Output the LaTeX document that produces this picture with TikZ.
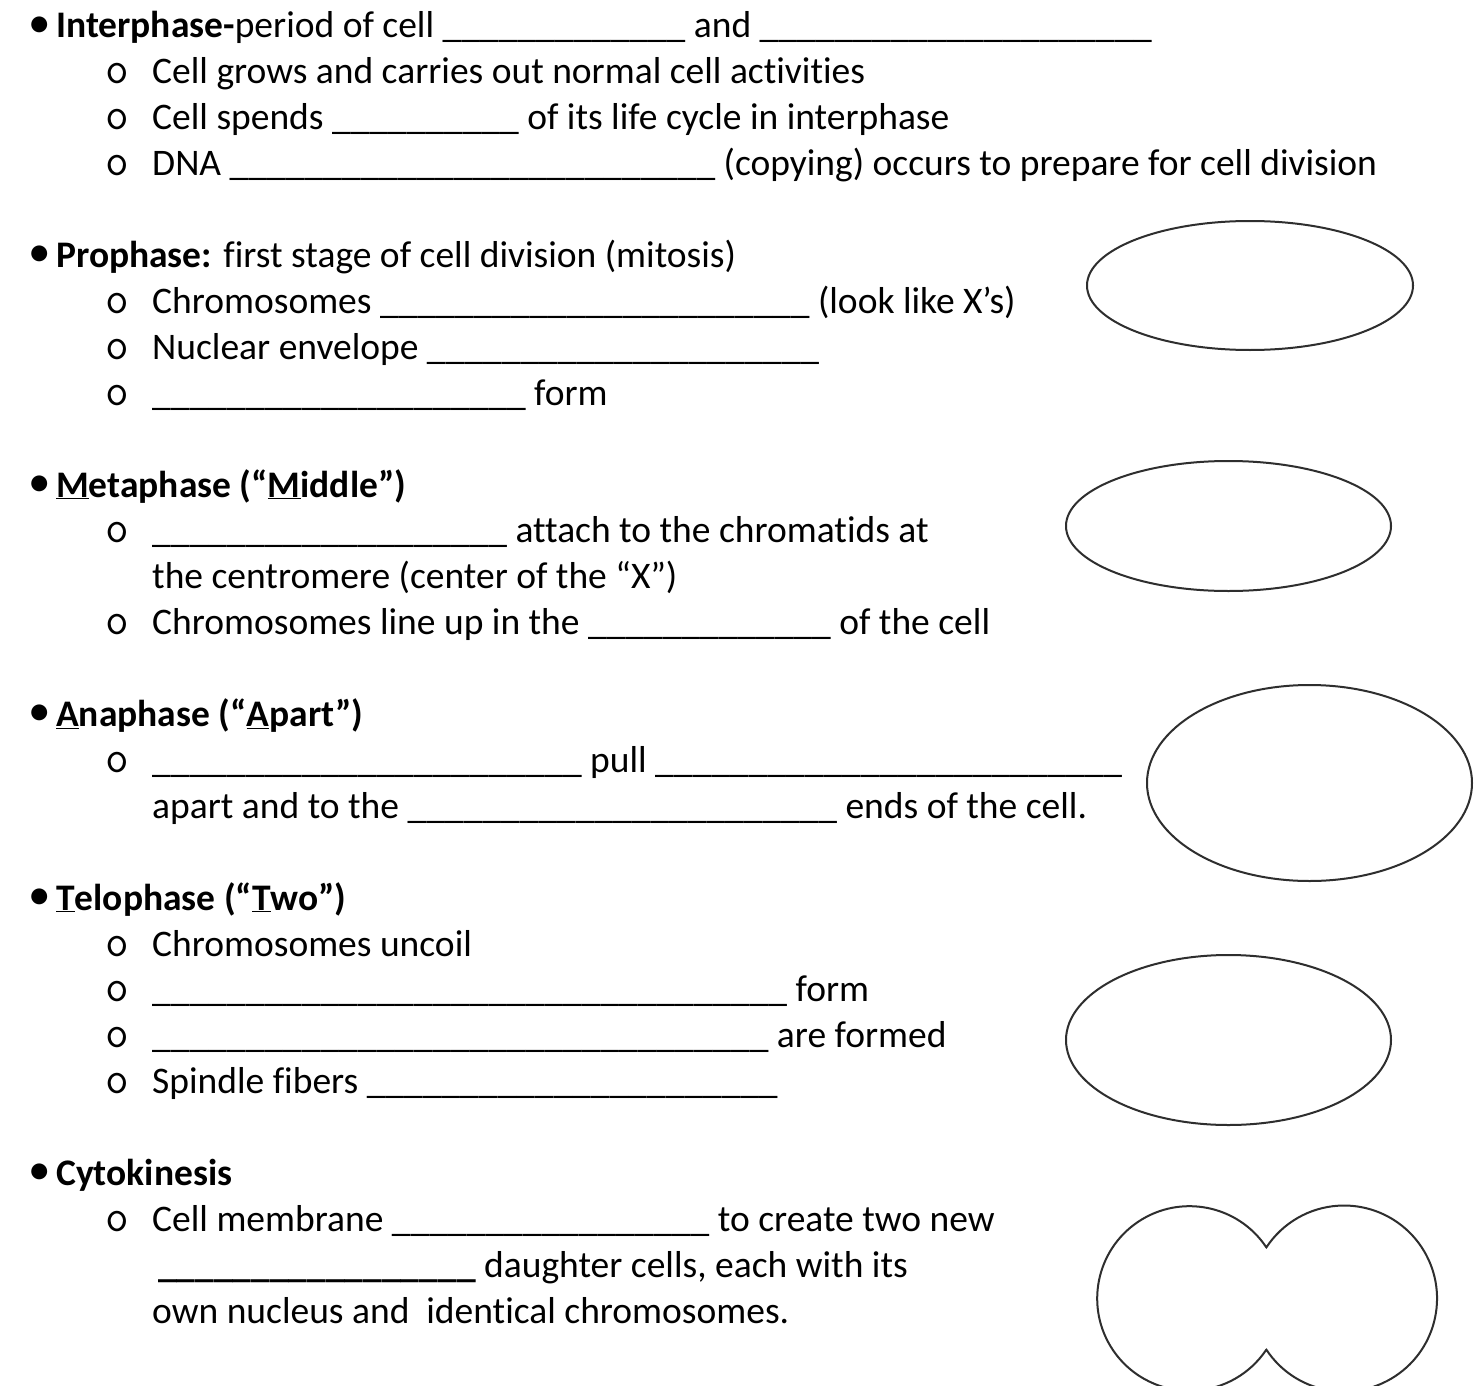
\documentclass[tikz,border=0pt]{standalone}
\usepackage{fontspec}
\setmainfont{Carlito}[RawFeature={-liga;-clig}]
\usetikzlibrary{shapes.geometric}
\ExplSyntaxOn
\cs_new:Npn \blank #1 {\prg_replicate:nn{#1}{\textunderscore}}
\ExplSyntaxOff
\newcommand\ul[1]{\underline{#1}}
\begin{document}
\begin{tikzpicture}[x=1pt,y=-1pt,
  txt/.style={anchor=base west, inner sep=0pt, font=\fontsize{37.5}{45}\selectfont},
  bul/.style={anchor=center, inner sep=0pt, font=\fontsize{45}{50}\selectfont},
  sub/.style={anchor=base, inner sep=0pt, font=\fontsize{46}{50}\ttfamily},
  cell/.style={draw=black!82, line width=2pt, ellipse, inner sep=0pt}]
\useasboundingbox (0,0) rectangle (1481,1386);
\clip (0,0) rectangle (1481,1386);
\fill[white] (0,0) rectangle (1481,1386);
\def\L#1{38+45.9*#1}
\def\B#1{27+45.9*#1}
% Interphase
\node[bul] (b0) at (40,{\B{0}}) {•};
\node[txt] (t0) at (56,{\L{0}}) {\textbf{Interphase-}period of cell \blank{13} and \blank{21}};
\node[sub] (s1) at (117,{\L{1}}) {o};
\node[txt] (t1) at (152,{\L{1}}) {Cell grows and carries out normal cell activities};
\node[sub] (s2) at (117,{\L{2}}) {o};
\node[txt] (t2) at (152,{\L{2}}) {Cell spends \blank{10} of its life cycle in interphase};
\node[sub] (s3) at (117,{\L{3}}) {o};
\node[txt] (t3) at (152,{\L{3}}) {DNA \blank{26} (copying) occurs to prepare for cell division};
% Prophase
\node[bul] (b5) at (40,{\B{5}}) {•};
\node[txt] (t5) at (56,{\L{5}}) {\textbf{Prophase:} first stage of cell division (mitosis)};
\node[sub] (s6) at (117,{\L{6}}) {o};
\node[txt] (t6) at (152,{\L{6}}) {Chromosomes \blank{23} (look like X’s)};
\node[sub] (s7) at (117,{\L{7}}) {o};
\node[txt] (t7) at (152,{\L{7}}) {Nuclear envelope \blank{21}};
\node[sub] (s8) at (117,{\L{8}}) {o};
\node[txt] (t8) at (152,{\L{8}}) {\blank{20} form};
% Metaphase
\node[bul] (b10) at (40,{\B{10}}) {•};
\node[txt] (t10) at (56,{\L{10}}) {\textbf{\ul{M}etaphase (“\ul{M}iddle”)}};
\node[sub] (s11) at (117,{\L{11}}) {o};
\node[txt] (t11) at (152,{\L{11}}) {\blank{19} attach to the chromatids at};
\node[txt] (t12) at (152,{\L{12}}) {the centromere (center of the “X”)};
\node[sub] (s13) at (117,{\L{13}}) {o};
\node[txt] (t13) at (152,{\L{13}}) {Chromosomes line up in the \blank{13} of the cell};
% Anaphase
\node[bul] (b15) at (40,{\B{15}}) {•};
\node[txt] (t15) at (56,{\L{15}}) {\textbf{\ul{A}naphase (“\ul{A}part”)}};
\node[sub] (s16) at (117,{\L{16}}) {o};
\node[txt] (t16) at (152,{\L{16}}) {\blank{23} pull \blank{25}};
\node[txt] (t17) at (152,{\L{17}}) {apart and to the \blank{23} ends of the cell.};
% Telophase
\node[bul] (b19) at (40,{\B{19}}) {•};
\node[txt] (t19) at (56,{\L{19}}) {\textbf{\ul{T}elophase (“\ul{T}wo”)}};
\node[sub] (s20) at (117,{\L{20}}) {o};
\node[txt] (t20) at (152,{\L{20}}) {Chromosomes uncoil};
\node[sub] (s21) at (117,{\L{21}}) {o};
\node[txt] (t21) at (152,{\L{21}}) {\blank{34} form};
\node[sub] (s22) at (117,{\L{22}}) {o};
\node[txt] (t22) at (152,{\L{22}}) {\blank{33} are formed};
\node[sub] (s23) at (117,{\L{23}}) {o};
\node[txt] (t23) at (152,{\L{23}}) {Spindle fibers \blank{22}};
% Cytokinesis
\node[bul] (b25) at (40,{\B{25}}) {•};
\node[txt] (t25) at (56,{\L{25}}) {\textbf{Cytokinesis}};
\node[sub] (s26) at (117,{\L{26}}) {o};
\node[txt] (t26) at (152,{\L{26}}) {Cell membrane \blank{17} to create two new};
\node[txt] (t27) at (158,{\L{27}}) {\textbf{\blank{17}} daughter cells, each with its};
\node[txt] (t28) at (152,{\L{28}}) {own nucleus and\ \ identical chromosomes.};
% cells
\node[cell, minimum width=326pt, minimum height=129pt] (pro) at (1250,285.5) {};
\node[cell, minimum width=325pt, minimum height=130pt] (meta) at (1228.5,526) {};
\node[cell, minimum width=325pt, minimum height=196pt] (ana) at (1309.5,783) {};
\node[cell, minimum width=325pt, minimum height=170pt] (telo) at (1228.5,1040) {};
\draw[draw=black!82, line width=2pt, line join=miter]
  (1266.1,1247) arc[start angle=-33.9, end angle=-326.1, radius=92.3]
  -- (1266.4,1349.7) arc[start angle=146.6, end angle=-146.6, radius=93] -- cycle;
\end{tikzpicture}
\end{document}
